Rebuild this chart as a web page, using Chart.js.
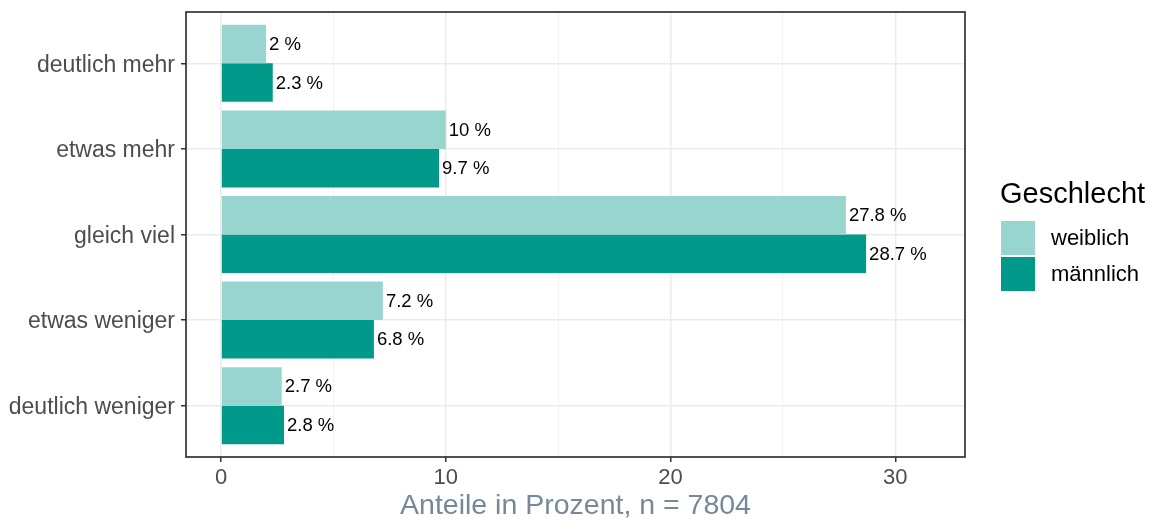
<!DOCTYPE html>
<html>
<head>
<meta charset="utf-8">
<script src="https://cdn.jsdelivr.net/npm/chart.js@4"></script>
<style>
  html, body { margin: 0; padding: 0; background: #fff; }
  #wrap { width: 1153px; height: 522px; }
</style>
</head>
<body>
<div id="wrap"><canvas id="chart" width="1153" height="522"></canvas></div>
<script>
// data
var categories = ["deutlich mehr", "etwas mehr", "gleich viel", "etwas weniger", "deutlich weniger"];
var weiblich = [2, 10, 27.8, 7.2, 2.7];
var maennlich = [2.3, 9.7, 28.7, 6.8, 2.8];
var xTicks = [0, 5, 10, 15, 20, 25, 30];

var FONT = "'Liberation Sans', Arial, sans-serif";

function toPoints(values) {
  return values.map(function (v, i) { return { x: v, y: i + 1 }; });
}

// panel border, value labels and legend
var extras = {
  id: "extras",
  afterDatasetsDraw: function (chart) {
    var ctx = chart.ctx;
    ctx.save();
    ctx.font = "18.5px " + FONT;
    ctx.fillStyle = "#000";
    ctx.textAlign = "left";
    ctx.textBaseline = "middle";
    chart.data.datasets.forEach(function (ds, di) {
      var meta = chart.getDatasetMeta(di);
      meta.data.forEach(function (bar, i) {
        ctx.fillText(ds.data[i].x + " %", bar.x + 3, bar.y + 1);
      });
    });
    var a = chart.chartArea;
    ctx.strokeStyle = "#333333";
    ctx.lineWidth = 1.7;
    ctx.strokeRect(a.left, a.top, a.right - a.left, a.bottom - a.top);
    ctx.restore();
  },
  afterDraw: function (chart) {
    var ctx = chart.ctx;
    ctx.save();
    ctx.fillStyle = "#000";
    ctx.textAlign = "left";
    ctx.textBaseline = "alphabetic";
    ctx.font = "29px " + FONT;
    ctx.fillText("Geschlecht", 1000, 203);
    ctx.font = "22px " + FONT;
    ctx.textBaseline = "middle";
    chart.data.datasets.forEach(function (ds, i) {
      var y = 221 + i * 36;
      ctx.fillStyle = ds.backgroundColor;
      ctx.fillRect(1001, y, 34, 34);
      ctx.fillStyle = "#000";
      ctx.fillText(ds.label, 1051, y + 18);
    });
    ctx.restore();
  }
};

var ctx = document.getElementById("chart").getContext("2d");
var chart = new Chart(ctx, {
  type: "bar",
  data: {
    datasets: [
      {
        label: "weiblich",
        backgroundColor: "#99D5CF",
        data: toPoints(weiblich),
        categoryPercentage: 0.9,
        barPercentage: 1.0,
      },
      {
        label: "männlich",
        backgroundColor: "#00998A",
        data: toPoints(maennlich),
        categoryPercentage: 0.9,
        barPercentage: 1.0,
      },
    ],
  },
  options: {
    indexAxis: "y",
    responsive: false,
    animation: false,
    layout: { padding: { top: 12, right: 188, left: 0, bottom: 0 } },
    plugins: {
      legend: { display: false },
      tooltip: { enabled: false },
    },
    scales: {
      x: {
        type: "linear",
        min: -1.56,
        max: 33.1,
        afterBuildTicks: function (scale) {
          scale.ticks = xTicks.map(function (v) { return { value: v }; });
        },
        afterFit: function (scale) {
          scale.height = 65;
          scale.paddingLeft = 0;
          scale.paddingRight = 0;
        },
        border: { display: false },
        grid: {
          color: function (c) { return c.tick && c.tick.value % 10 === 0 ? "#EBEBEB" : "#F2F2F2"; },
          lineWidth: function (c) { return c.tick && c.tick.value % 10 === 0 ? 1.5 : 1; },
          tickColor: function (c) { return c.tick && c.tick.value % 10 === 0 ? "#333333" : "rgba(0,0,0,0)"; },
          tickLength: 5,
        },
        ticks: {
          autoSkip: false,
          maxRotation: 0,
          padding: 3,
          color: "#4D4D4D",
          font: { family: FONT, size: 22 },
          callback: function (v) { return v % 10 === 0 ? String(v) : ""; },
        },
        title: {
          display: true,
          text: "Anteile in Prozent, n = 7804",
          color: "#778899",
          font: { family: FONT, size: 28.5, lineHeight: 1.0 },
          padding: { top: 0, bottom: 2 },
        },
      },
      y: {
        type: "linear",
        reverse: true,
        offset: false,
        min: 0.4,
        max: 5.6,
        afterBuildTicks: function (scale) {
          scale.ticks = categories.map(function (c, i) { return { value: i + 1 }; });
        },
        afterFit: function (scale) {
          scale.width = 186;
          scale.paddingTop = 0;
          scale.paddingBottom = 0;
        },
        border: { display: false },
        grid: {
          offset: false,
          color: "#EBEBEB",
          lineWidth: 1.5,
          tickColor: "#333333",
          tickLength: 5,
        },
        ticks: {
          autoSkip: false,
          padding: 6,
          labelOffset: 2,
          color: "#4D4D4D",
          font: { family: FONT, size: 23 },
          callback: function (v) { return categories[v - 1]; },
        },
      },
    },
  },
  plugins: [extras],
});
</script>
</body>
</html>
